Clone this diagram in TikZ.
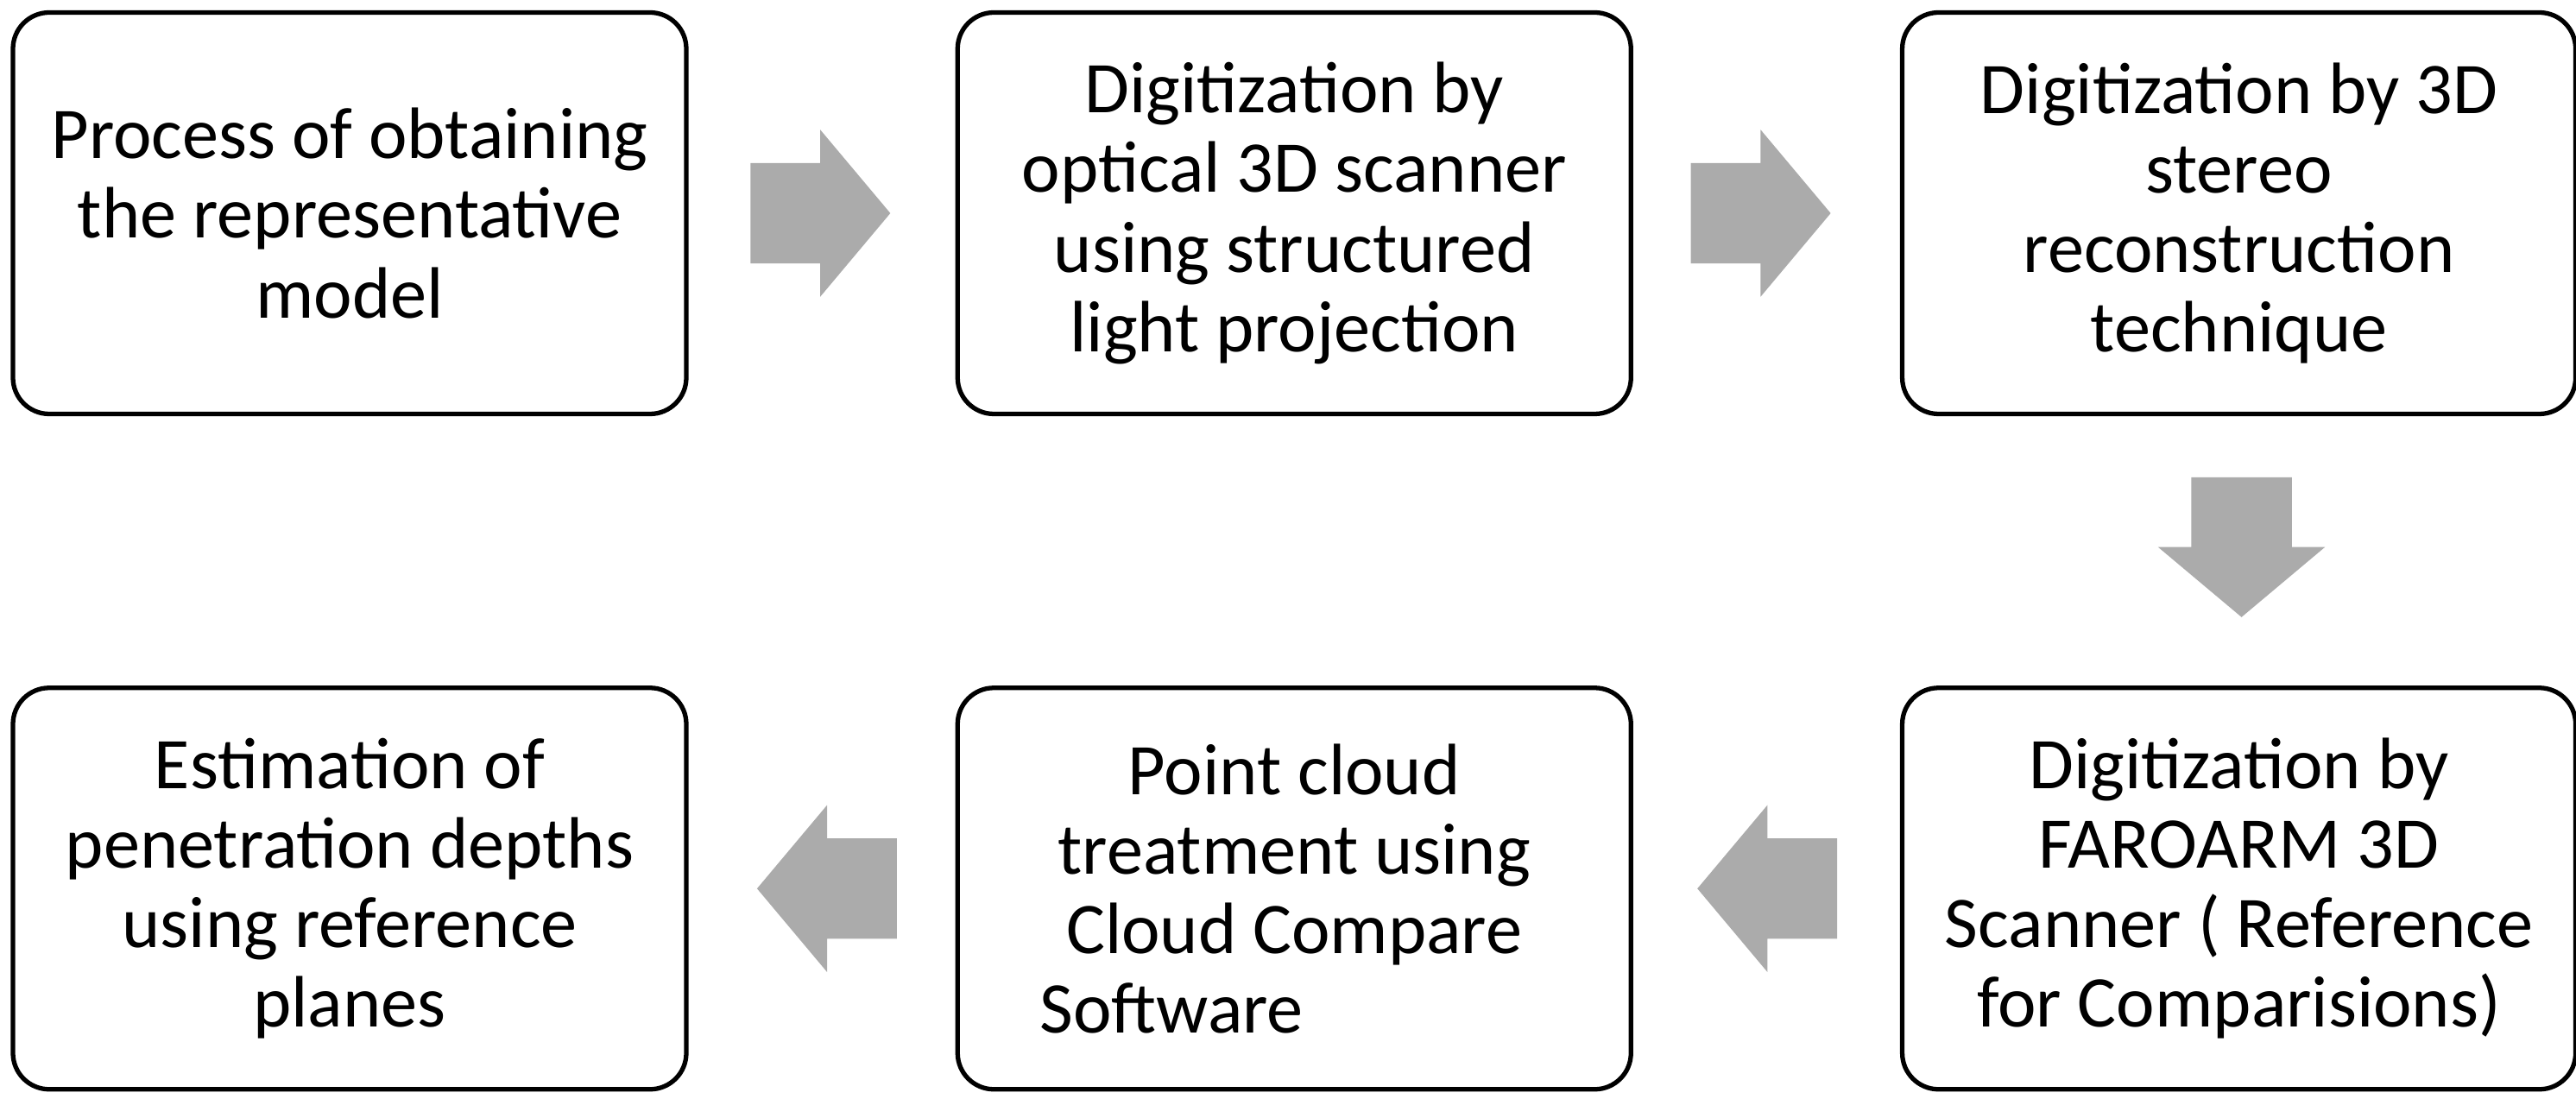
\documentclass[tikz,border=0pt]{standalone}
\usepackage{fontspec}
\setmainfont{Carlito}
\usetikzlibrary{positioning,shapes.arrows}
\definecolor{arrowgray}{RGB}{171,171,171}
\begin{document}
\begin{tikzpicture}
[font=\fontsize{24}{26.2}\selectfont,stepbox/.style={draw,line width=1.5pt,rounded corners=0.42cm,align=center,minimum width=7.8cm,minimum height=4.65cm,inner sep=0pt},fatarrow/.style={single arrow,anchor=tail,fill=arrowgray,draw=none,inner xsep=0pt,inner ysep=0.575cm,minimum height=1.62cm,single arrow head extend=0.385cm,single arrow tip angle=100},]
\useasboundingbox (0,0) rectangle (29.84,12.73);
\node[stepbox](model) at (4.05,10.26){Process of obtaining\\the representative\\model};
\node[stepbox,right=3.09cm of model](optical){Digitization by\\optical 3D scanner\\using structured\\light projection};
\node[stepbox,right=3.09cm of optical](stereo){Digitization by 3D\\stereo\\reconstruction\\technique};
\node[stepbox,below=3.12cm of stereo](faroarm){Digitization by\\FAROARM 3D\\Scanner ( Reference\\for Comparisions)};
\node[stepbox,left=3.09cm of faroarm](cloud){Point cloud\\treatment using\\Cloud Compare\\Software\hspace*{2.84cm}};
\node[stepbox,left=3.09cm of cloud](depths){Estimation of\\penetration depths\\using reference\\planes};
\node[fatarrow](model-optical) at ([xshift=0.71cm]model.east){};
\node[fatarrow](optical-stereo) at ([xshift=0.66cm]optical.east){};
\node[fatarrow,rotate=-90](stereo-faroarm) at ([xshift=0.03cm,yshift=-0.7cm]stereo.south){};
\node[fatarrow,rotate=180](faroarm-cloud) at ([xshift=-0.72cm]faroarm.west){};
\node[fatarrow,rotate=180](cloud-depths) at ([xshift=-0.67cm]cloud.west){};
\end{tikzpicture}
\end{document}
